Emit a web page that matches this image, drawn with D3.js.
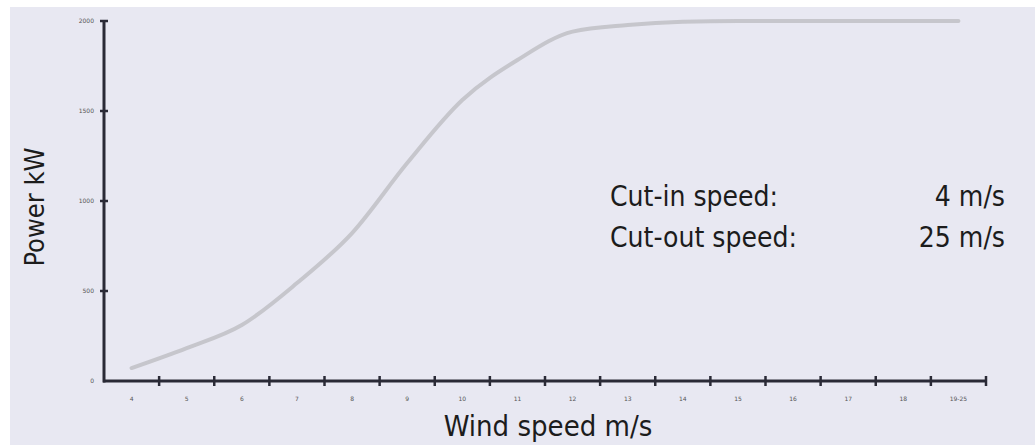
<!DOCTYPE html>
<html>
<head>
<meta charset="utf-8">
<script src="https://cdn.jsdelivr.net/npm/d3@7"></script>
<style>
  html, body { margin: 0; padding: 0; background: #fff; }
  svg { display: block; }
</style>
</head>
<body>
<svg id="chart" width="1035" height="445"></svg>
<script>
// Windgeschwindigkeit (Kategorien) und Leistung in kW
const speeds = ["4", "5", "6", "7", "8", "9", "10", "11", "12", "13", "14", "15", "16", "17", "18", "19-25"];
const power = [72, 183, 311, 544, 822, 1211, 1561, 1783, 1941, 1978, 1996, 2000, 2000, 2000, 2000, 2000];
const yTicks = [0, 500, 1000, 1500, 2000];
const notes = [
  { label: "Cut-in speed:", value: "4 m/s" },
  { label: "Cut-out speed:", value: "25 m/s" }
];

const svg = d3.select("#chart");
const width = 1035, height = 445;
const margin = { left: 104, right: 49, top: 21, bottom: 64 };
const font = "DejaVu Sans Condensed";

// Hintergrund
svg.append("rect")
  .attr("x", 10).attr("y", 7)
  .attr("width", width - 10).attr("height", height - 7)
  .attr("fill", "#e8e8f2");

const x = d3.scaleBand()
  .domain(speeds)
  .range([margin.left, width - margin.right]);

const y = d3.scaleLinear()
  .domain([0, 2000])
  .range([height - margin.bottom, margin.top]);

const axisColor = "#2a2a36";
const y0 = y(0);

// x-Achse: Linie + Tickstriche an den Bandgrenzen
svg.append("line")
  .attr("x1", margin.left - 1).attr("x2", x.range()[1] + 1)
  .attr("y1", y0).attr("y2", y0)
  .attr("stroke", axisColor).attr("stroke-width", 3);

svg.selectAll(".xtick")
  .data(speeds)
  .enter().append("line")
  .attr("x1", d => x(d) + x.bandwidth())
  .attr("x2", d => x(d) + x.bandwidth())
  .attr("y1", y0 - 5).attr("y2", y0 + 5)
  .attr("stroke", axisColor).attr("stroke-width", 2.5);

// x-Labels mittig im Band
const xAxis = svg.append("g")
  .attr("transform", `translate(0,${y0 + 16})`)
  .call(d3.axisBottom(x).tickSize(0).tickPadding(0));
xAxis.select(".domain").remove();
xAxis.selectAll("text")
  .attr("fill", "#555")
  .style("font-family", "DejaVu Sans")
  .style("font-size", "6px");

// y-Achse
svg.append("line")
  .attr("x1", margin.left).attr("x2", margin.left)
  .attr("y1", y(2000) - 1).attr("y2", y0 + 1.5)
  .attr("stroke", axisColor).attr("stroke-width", 3);

svg.selectAll(".ytick")
  .data(yTicks.filter(d => d > 0))
  .enter().append("line")
  .attr("x1", margin.left - 4).attr("x2", margin.left + 4)
  .attr("y1", d => y(d)).attr("y2", d => y(d))
  .attr("stroke", axisColor).attr("stroke-width", 2.5);

const yAxis = svg.append("g")
  .attr("transform", `translate(${margin.left - 10},0)`)
  .call(d3.axisLeft(y).tickValues(yTicks).tickFormat(d3.format("d")).tickSize(0).tickPadding(0));
yAxis.select(".domain").remove();
yAxis.selectAll("text")
  .attr("fill", "#555")
  .style("font-family", "DejaVu Sans")
  .style("font-size", "6px");

// Leistungskurve
const line = d3.line()
  .x((d, i) => x(speeds[i]) + x.bandwidth() / 2)
  .y(d => y(d))
  .curve(d3.curveMonotoneX);

svg.append("path")
  .datum(power)
  .attr("d", line)
  .attr("fill", "none")
  .attr("stroke", "#c6c6cc")
  .attr("stroke-width", 4)
  .attr("stroke-linecap", "round");

// Achsentitel
svg.append("text")
  .attr("x", 548)
  .attr("y", 436)
  .attr("text-anchor", "middle")
  .attr("fill", "#1c1c1c")
  .style("font-family", font)
  .style("font-size", "29px")
  .text("Wind speed m/s");

svg.append("text")
  .attr("transform", "translate(44,207) rotate(-90)")
  .attr("text-anchor", "middle")
  .attr("fill", "#1c1c1c")
  .style("font-family", font)
  .style("font-size", "27px")
  .text("Power kW");

// Hinweise
const note = svg.selectAll(".note")
  .data(notes)
  .enter().append("g")
  .attr("transform", (d, i) => `translate(0,${206 + i * 41})`);

note.append("text")
  .attr("x", 610)
  .attr("fill", "#1c1c1c")
  .style("font-family", font)
  .style("font-size", "28px")
  .text(d => d.label);

note.append("text")
  .attr("x", 1005)
  .attr("text-anchor", "end")
  .attr("fill", "#1c1c1c")
  .style("font-family", font)
  .style("font-size", "28px")
  .text(d => d.value);
</script>
</body>
</html>
